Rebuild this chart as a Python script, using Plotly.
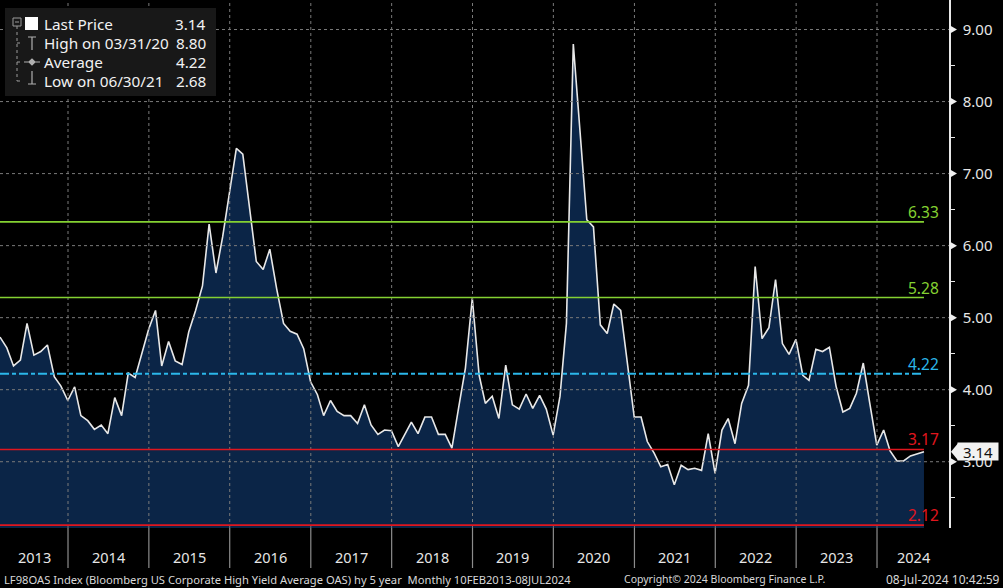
import pandas as pd
import plotly.graph_objects as go

# monthly HY OAS (month-end points)
spread_2013 = [4.73, 4.58, 4.33, 4.41, 4.92, 4.48, 4.53, 4.62, 4.18, 4.05, 3.85]  # Feb-Dec
spread_2014 = [4.04, 3.64, 3.57, 3.45, 3.51, 3.39, 3.89, 3.64, 4.23, 4.17, 4.49, 4.84]
spread_2015 = [5.10, 4.33, 4.67, 4.40, 4.35, 4.80, 5.10, 5.44, 6.30, 5.62, 6.12, 6.72]
spread_2016 = [7.35, 7.27, 6.54, 5.78, 5.67, 5.95, 5.40, 4.92, 4.81, 4.77, 4.57, 4.11]
spread_2017 = [3.93, 3.64, 3.85, 3.70, 3.64, 3.64, 3.53, 3.79, 3.51, 3.38, 3.44, 3.43]
spread_2018 = [3.21, 3.37, 3.55, 3.39, 3.62, 3.62, 3.38, 3.38, 3.19, 3.76, 4.30, 5.27]
spread_2019 = [4.20, 3.81, 3.91, 3.60, 4.34, 3.79, 3.73, 3.94, 3.74, 3.92, 3.73, 3.37]
spread_2020 = [3.91, 4.92, 8.80, 7.60, 6.36, 6.26, 4.90, 4.78, 5.19, 5.10, 4.33, 3.62]
spread_2021 = [3.62, 3.28, 3.12, 2.93, 2.96, 2.68, 2.95, 2.89, 2.91, 2.88, 3.39, 2.84]
spread_2022 = [3.44, 3.60, 3.25, 3.81, 4.06, 5.71, 4.71, 4.86, 5.53, 4.64, 4.49, 4.70]
spread_2023 = [4.20, 4.13, 4.56, 4.53, 4.59, 4.05, 3.69, 3.74, 3.95, 4.37, 3.80, 3.23]
spread_2024 = [3.44, 3.15, 3.01, 3.01, 3.08, 3.11, 3.14]  # Jan-Jul

years = [2013, 2014, 2015, 2016, 2017, 2018, 2019, 2020, 2021, 2022, 2023, 2024]
first_month = {2013: 2}

# reference levels (+2sd, +1sd, mean, -1sd, -2sd)
level_values = [6.33, 5.28, 4.22, 3.17, 2.12]
level_colors = ["#84d132", "#84d132", "#2bb7ea", "#e0161e", "#e0161e"]
level_dash = ["solid", "solid", "9px,3px,4px,3px", "solid", "solid"]

ytick_values = [3, 4, 5, 6, 7, 8, 9]

legend_labels = ["Last Price", "High on 03/31/20", "Average", "Low on 06/30/21"]
legend_values = ["3.14", "8.80", "4.22", "2.68"]
last_price = 3.14

footer_left = "LF98OAS Index (Bloomberg US Corporate High Yield Average OAS) hy 5 year  Monthly 10FEB2013-08JUL2024"
footer_mid = "Copyright\u00a9 2024 Bloomberg Finance L.P."
footer_right = "08-Jul-2024 10:42:59"

FONT = "Noto Sans"
W, H = 1003, 588
PW, PH = 949, 528  # plot area in pixels


def px(x):
    return x / PW


def py(y):
    return 1 - y / PH


all_series = [spread_2013, spread_2014, spread_2015, spread_2016, spread_2017, spread_2018,
              spread_2019, spread_2020, spread_2021, spread_2022, spread_2023, spread_2024]
dates, values = [], []
for yr, vals in zip(years, all_series):
    m0 = first_month.get(yr, 1)
    dates += list(pd.date_range(f"{yr}-{m0:02d}-01", periods=len(vals), freq="ME"))
    values += vals

x_start = pd.Timestamp("2013-02-28")
x_end = pd.Timestamp("2024-11-21")
y_lo, y_hi = 2.08, 9.41

fig = go.Figure()
fig.add_trace(go.Scatter(
    x=dates, y=values, mode="lines",
    line=dict(color="#e8e8e8", width=1.6),
    fill="tozeroy", fillcolor="#0b2547",
    hoverinfo="skip", showlegend=False,
))

shapes = []
# dotted grid drawn above the fill
for v in ytick_values:
    shapes.append(dict(type="line", xref="paper", yref="y", x0=0, x1=1, y0=v, y1=v,
                       line=dict(color="#7a7a7a", width=1, dash="dot"), layer="above"))
for yr in years[1:]:
    d = pd.Timestamp(f"{yr}-01-01")
    shapes.append(dict(type="line", xref="x", yref="paper", x0=d, x1=d, y0=0, y1=1,
                       line=dict(color="#7a7a7a", width=1, dash="dot"), layer="above"))
    # solid separators under the axis
    shapes.append(dict(type="line", xref="x", yref="paper", x0=d, x1=d, y0=0, y1=py(568),
                       line=dict(color="#8c8c8c", width=1.2)))

# level lines
for v, c, dsh in zip(level_values, level_colors, level_dash):
    shapes.append(dict(type="line", xref="x", yref="y", x0=dates[0], x1=dates[-1], y0=v, y1=v,
                       line=dict(color=c, width=2 if dsh != "solid" else 1.7, dash=dsh), layer="above"))

# major tick triangles
for v in ytick_values:
    h = 4 / 72.07
    shapes.append(dict(type="path", xref="paper", yref="y",
                       path=f"M {px(950)} {v + h} L {px(957)} {v} L {px(950)} {v - h} Z",
                       fillcolor="#f0f0f0", line=dict(width=0), layer="above"))

# last price tag pointer (box itself is the annotation below)
h = 8.5 / 72.07
shapes.append(dict(type="path", xref="paper", yref="y",
                   path=f"M {px(951)} {last_price} L {px(958)} {last_price + h} L {px(958)} {last_price - h} Z",
                   fillcolor="#f2f2f2", line=dict(width=0), layer="above"))

# legend box
shapes.append(dict(type="rect", xref="paper", yref="paper", x0=px(5), x1=px(216), y0=py(8), y1=py(96),
                   fillcolor="#181818", line=dict(width=0), layer="above"))
tree = "#9a9a9a"
shapes.append(dict(type="rect", xref="paper", yref="paper", x0=px(13), x1=px(21), y0=py(18), y1=py(26),
                   line=dict(color=tree, width=1), layer="above"))
shapes.append(dict(type="line", xref="paper", yref="paper", x0=px(15), x1=px(19), y0=py(22), y1=py(22),
                   line=dict(color=tree, width=1), layer="above"))
shapes.append(dict(type="line", xref="paper", yref="paper", x0=px(17), x1=px(17), y0=py(26), y1=py(81),
                   line=dict(color=tree, width=1, dash="dot"), layer="above"))
for ry in [43, 62, 81]:
    shapes.append(dict(type="line", xref="paper", yref="paper", x0=px(17), x1=px(23), y0=py(ry), y1=py(ry),
                       line=dict(color=tree, width=1, dash="dot"), layer="above"))
shapes.append(dict(type="rect", xref="paper", yref="paper", x0=px(25), x1=px(38), y0=py(17), y1=py(30),
                   fillcolor="#ffffff", line=dict(width=0), layer="above"))
shapes.append(dict(type="path", xref="paper", yref="paper",
                   path=f"M {px(28)} {py(37)} L {px(36)} {py(37)} M {px(32)} {py(37)} L {px(32)} {py(50)}",
                   line=dict(color="#b0b0b0", width=1.2), layer="above"))
shapes.append(dict(type="path", xref="paper", yref="paper",
                   path=(f"M {px(24)} {py(62)} L {px(40)} {py(62)} M {px(29)} {py(62)} L {px(32)} {py(59)} "
                         f"L {px(35)} {py(62)} L {px(32)} {py(65)} Z"),
                   fillcolor="#b0b0b0", line=dict(color="#b0b0b0", width=1.2), layer="above"))
shapes.append(dict(type="path", xref="paper", yref="paper",
                   path=f"M {px(32)} {py(71)} L {px(32)} {py(84)} M {px(28)} {py(84)} L {px(36)} {py(84)}",
                   line=dict(color="#b0b0b0", width=1.2), layer="above"))

annotations = []
for v, c in zip(level_values, level_colors):
    annotations.append(dict(xref="paper", yref="y", x=px(941), y=v, text=f"{v:.2f}", showarrow=False,
                            xanchor="right", yanchor="bottom", yshift=-3,
                            font=dict(family=FONT, size=15.5, color=c)))
# last price tag box, drawn over the 3.00 tick label like the terminal does
annotations.append(dict(xref="paper", yref="y", x=px(957), y=last_price, text=f"{last_price:.2f}",
                        showarrow=False, xanchor="left", yanchor="middle", width=40, height=17,
                        bgcolor="#f2f2f2", borderpad=0, align="center",
                        font=dict(family=FONT, size=15, color="#111111")))

row_y = [24, 43, 62, 81]
for lab, val, ry in zip(legend_labels, legend_values, row_y):
    annotations.append(dict(xref="paper", yref="paper", x=px(42), y=py(ry), text=lab, showarrow=False,
                            xanchor="left", yanchor="middle", font=dict(family=FONT, size=15.3, color="#f2f2f2")))
    annotations.append(dict(xref="paper", yref="paper", x=px(208), y=py(ry), text=val, showarrow=False,
                            xanchor="right", yanchor="middle", font=dict(family=FONT, size=15.3, color="#f2f2f2")))

# year labels centred on the visible part of each year
for yr in years:
    a = max(pd.Timestamp(f"{yr}-01-01"), x_start)
    b = min(pd.Timestamp(f"{yr + 1}-01-01"), x_end)
    mid = a + (b - a) / 2
    annotations.append(dict(xref="x", yref="paper", x=mid, y=py(557), text=str(yr), showarrow=False,
                            yanchor="middle", font=dict(family=FONT, size=14.5, color="#e6e6e6")))

annotations.append(dict(xref="paper", yref="paper", x=px(2), y=py(579), text=footer_left, showarrow=False,
                        xanchor="left", yanchor="middle", font=dict(family=FONT, size=11.2, color="#d8d8d8")))
annotations.append(dict(xref="paper", yref="paper", x=px(724), y=py(579), text=footer_mid, showarrow=False,
                        xanchor="center", yanchor="middle", font=dict(family=FONT, size=10.5, color="#d8d8d8")))
annotations.append(dict(xref="paper", yref="paper", x=px(1002), y=py(579), text=footer_right, showarrow=False,
                        xanchor="right", yanchor="middle", font=dict(family=FONT, size=12, color="#d8d8d8")))

fig.update_layout(
    width=W, height=H,
    margin=dict(l=0, r=W - PW, t=0, b=H - PH, pad=0),
    paper_bgcolor="#000000", plot_bgcolor="#000000",
    showlegend=False,
    shapes=shapes, annotations=annotations,
    xaxis=dict(range=[x_start, x_end], showgrid=False, showticklabels=False, zeroline=False,
               showline=False, ticks=""),
    yaxis=dict(range=[y_lo, y_hi], side="right", tickmode="linear", tick0=0, dtick=1,
               tickformat=".2f", showgrid=False, zeroline=False,
               showline=True, linecolor="#e8e8e8", linewidth=1.5,
               ticks="outside", ticklen=9, tickcolor="rgba(0,0,0,0)",
               tickfont=dict(family=FONT, size=15, color="#e6e6e6"),
               minor=dict(ticks="outside", ticklen=4, tickcolor="#e8e8e8", dtick=0.5, showgrid=False)),
)

# page body has a default margin; drop it so the figure sits at the window corner
fig.write_html("out.html", config={"displayModeBar": False},
               post_script="document.body.style.margin='0';document.body.style.overflow='hidden';")
